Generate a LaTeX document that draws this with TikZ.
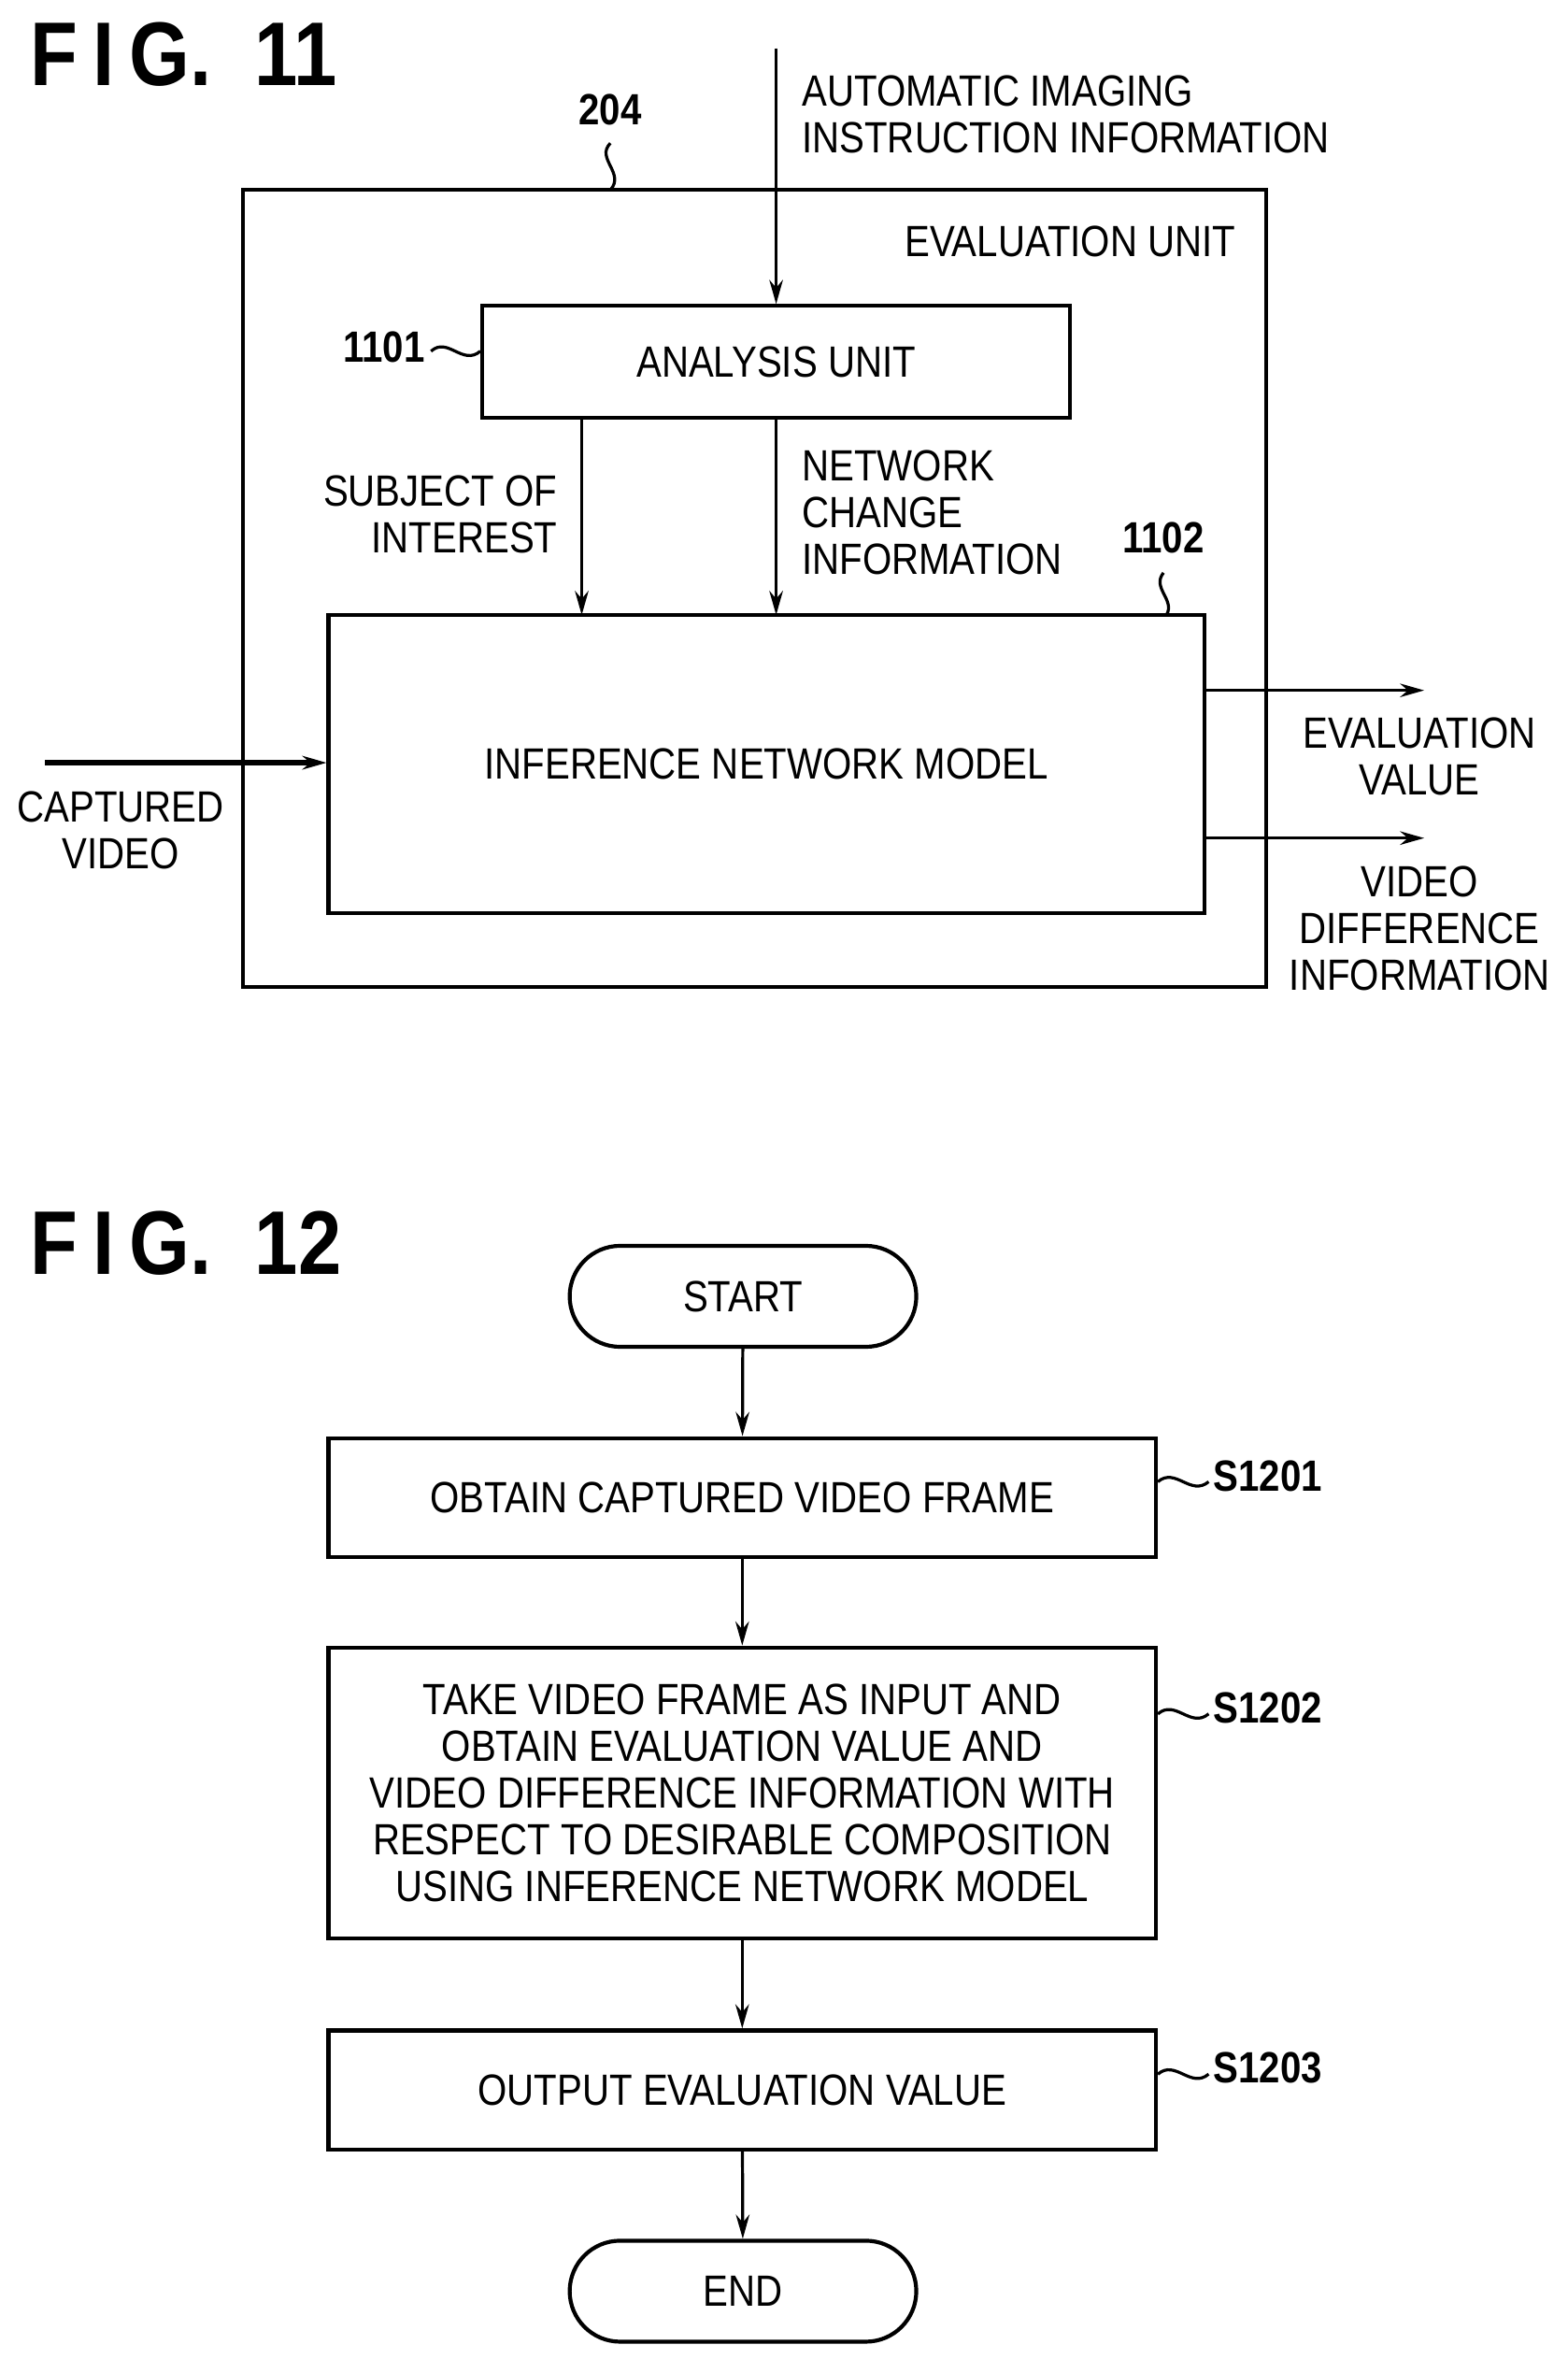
\documentclass[tikz,border=0pt]{standalone}
\usepackage{fontspec}
\setmainfont{Liberation Sans}[FakeStretch=0.86]
\usetikzlibrary{arrows.meta,shapes.misc}
\begin{document}
\begin{tikzpicture}[x=1pt,y=-1pt,
  every node/.style={font=\fontsize{29}{31}\selectfont, inner sep=0pt},
  box/.style={draw, line width=2.6pt},
  ln/.style={line width=2pt},
  arr/.style={line width=2pt,-{Stealth[length=16pt,width=9pt]}},
  lbl/.style={font=\fontsize{29}{31}\selectfont\bfseries},
  title/.style={font=\fontsize{60}{60}\selectfont\bfseries, anchor=west},
  txt/.style={align=center}]
\useasboundingbox (0,0) rectangle (1040,1565);
\fill[white] (0,0) rectangle (1040,1565);
% FIG 11
\node[title] (t11) at (20,36) {F\,I\,G.\ \ 11};
\draw[box] (161,126) rectangle (840,655);
\coordinate (outerTop) at (405,126);
\node[lbl] (l204) at (405,73) {204};
\draw[ln] (405,95) .. controls (395,105) and (415,115) .. (outerTop);
\node[anchor=east] (eu) at (820,160) {EVALUATION UNIT};
\node[box, minimum width=390pt, minimum height=74pt] (an) at (515,240) {ANALYSIS UNIT};
\coordinate (inTop) at (515,32);
\draw[arr] (inTop) -- (an.north);
\node[anchor=west, align=left] (aii) at (532,76) {AUTOMATIC IMAGING\\INSTRUCTION INFORMATION};
\node[lbl, anchor=east] (l1101) at (282,230) {1101};
\draw[ln] (286,233) .. controls (297,223) and (307,243) .. (an.west|-0,233);
\node[box, minimum width=581pt, minimum height=198pt] (inf) at (508.5,507) {INFERENCE NETWORK MODEL};
\draw[arr] (386,277) -- (386,408);
\draw[arr] (515,277) -- (515,408);
\node[anchor=east, align=right] (soi) at (370,341) {SUBJECT OF\\INTEREST};
\node[anchor=west, align=left] (nci) at (532,340) {NETWORK\\CHANGE\\INFORMATION};
\node[lbl] (l1102) at (772,357) {1102};
\draw[ln] (772,380) .. controls (764,390) and (780,398) .. (774,408);
\coordinate (cvs) at (30,506);
\draw[line width=3.5pt,-{Stealth[length=16pt,width=9pt]}] (cvs) -- (inf.west|-0,506);
\node[txt] (cv) at (80,551) {CAPTURED\\VIDEO};
\coordinate (e1) at (945,458);
\coordinate (e2) at (945,556);
\draw[arr] (inf.east|-e1) -- (e1);
\draw[arr] (inf.east|-e2) -- (e2);
\node[txt] (ev) at (942,502) {EVALUATION\\VALUE};
\node[txt] (vdi) at (942,616) {VIDEO\\DIFFERENCE\\INFORMATION};
% FIG 12
\node[title] (t12) at (20,825) {F\,I\,G.\ \ 12};
\node[box, rounded rectangle, minimum width=230pt, minimum height=67pt] (st) at (493,860) {START};
\node[box, minimum width=549pt, minimum height=79pt] (s1) at (492.5,993.5) {OBTAIN CAPTURED VIDEO FRAME};
\node[box, minimum width=549pt, minimum height=193pt, align=center] (s2) at (492.5,1189.5) {TAKE VIDEO FRAME AS INPUT AND\\OBTAIN EVALUATION VALUE AND\\VIDEO DIFFERENCE INFORMATION WITH\\RESPECT TO DESIRABLE COMPOSITION\\USING INFERENCE NETWORK MODEL};
\node[box, minimum width=549pt, minimum height=79pt] (s3) at (492.5,1386.5) {OUTPUT EVALUATION VALUE};
\node[box, rounded rectangle, minimum width=230pt, minimum height=67pt] (en) at (493,1520) {END};
\draw[arr] (st) -- (s1);
\draw[arr] (s1) -- (s2);
\draw[arr] (s2) -- (s3);
\draw[arr] (s3) -- (en);
\node[lbl, anchor=west] (ls1) at (805,979) {S1201};
\node[lbl, anchor=west] (ls2) at (805,1133) {S1202};
\node[lbl, anchor=west] (ls3) at (805,1372) {S1203};
\draw[ln] (s1.east|-0,983) .. controls (780,973) and (790,993) .. (802,983);
\draw[ln] (s2.east|-0,1137) .. controls (780,1127) and (790,1147) .. (802,1137);
\draw[ln] (s3.east|-0,1376) .. controls (780,1366) and (790,1386) .. (802,1376);
\end{tikzpicture}
\end{document}
